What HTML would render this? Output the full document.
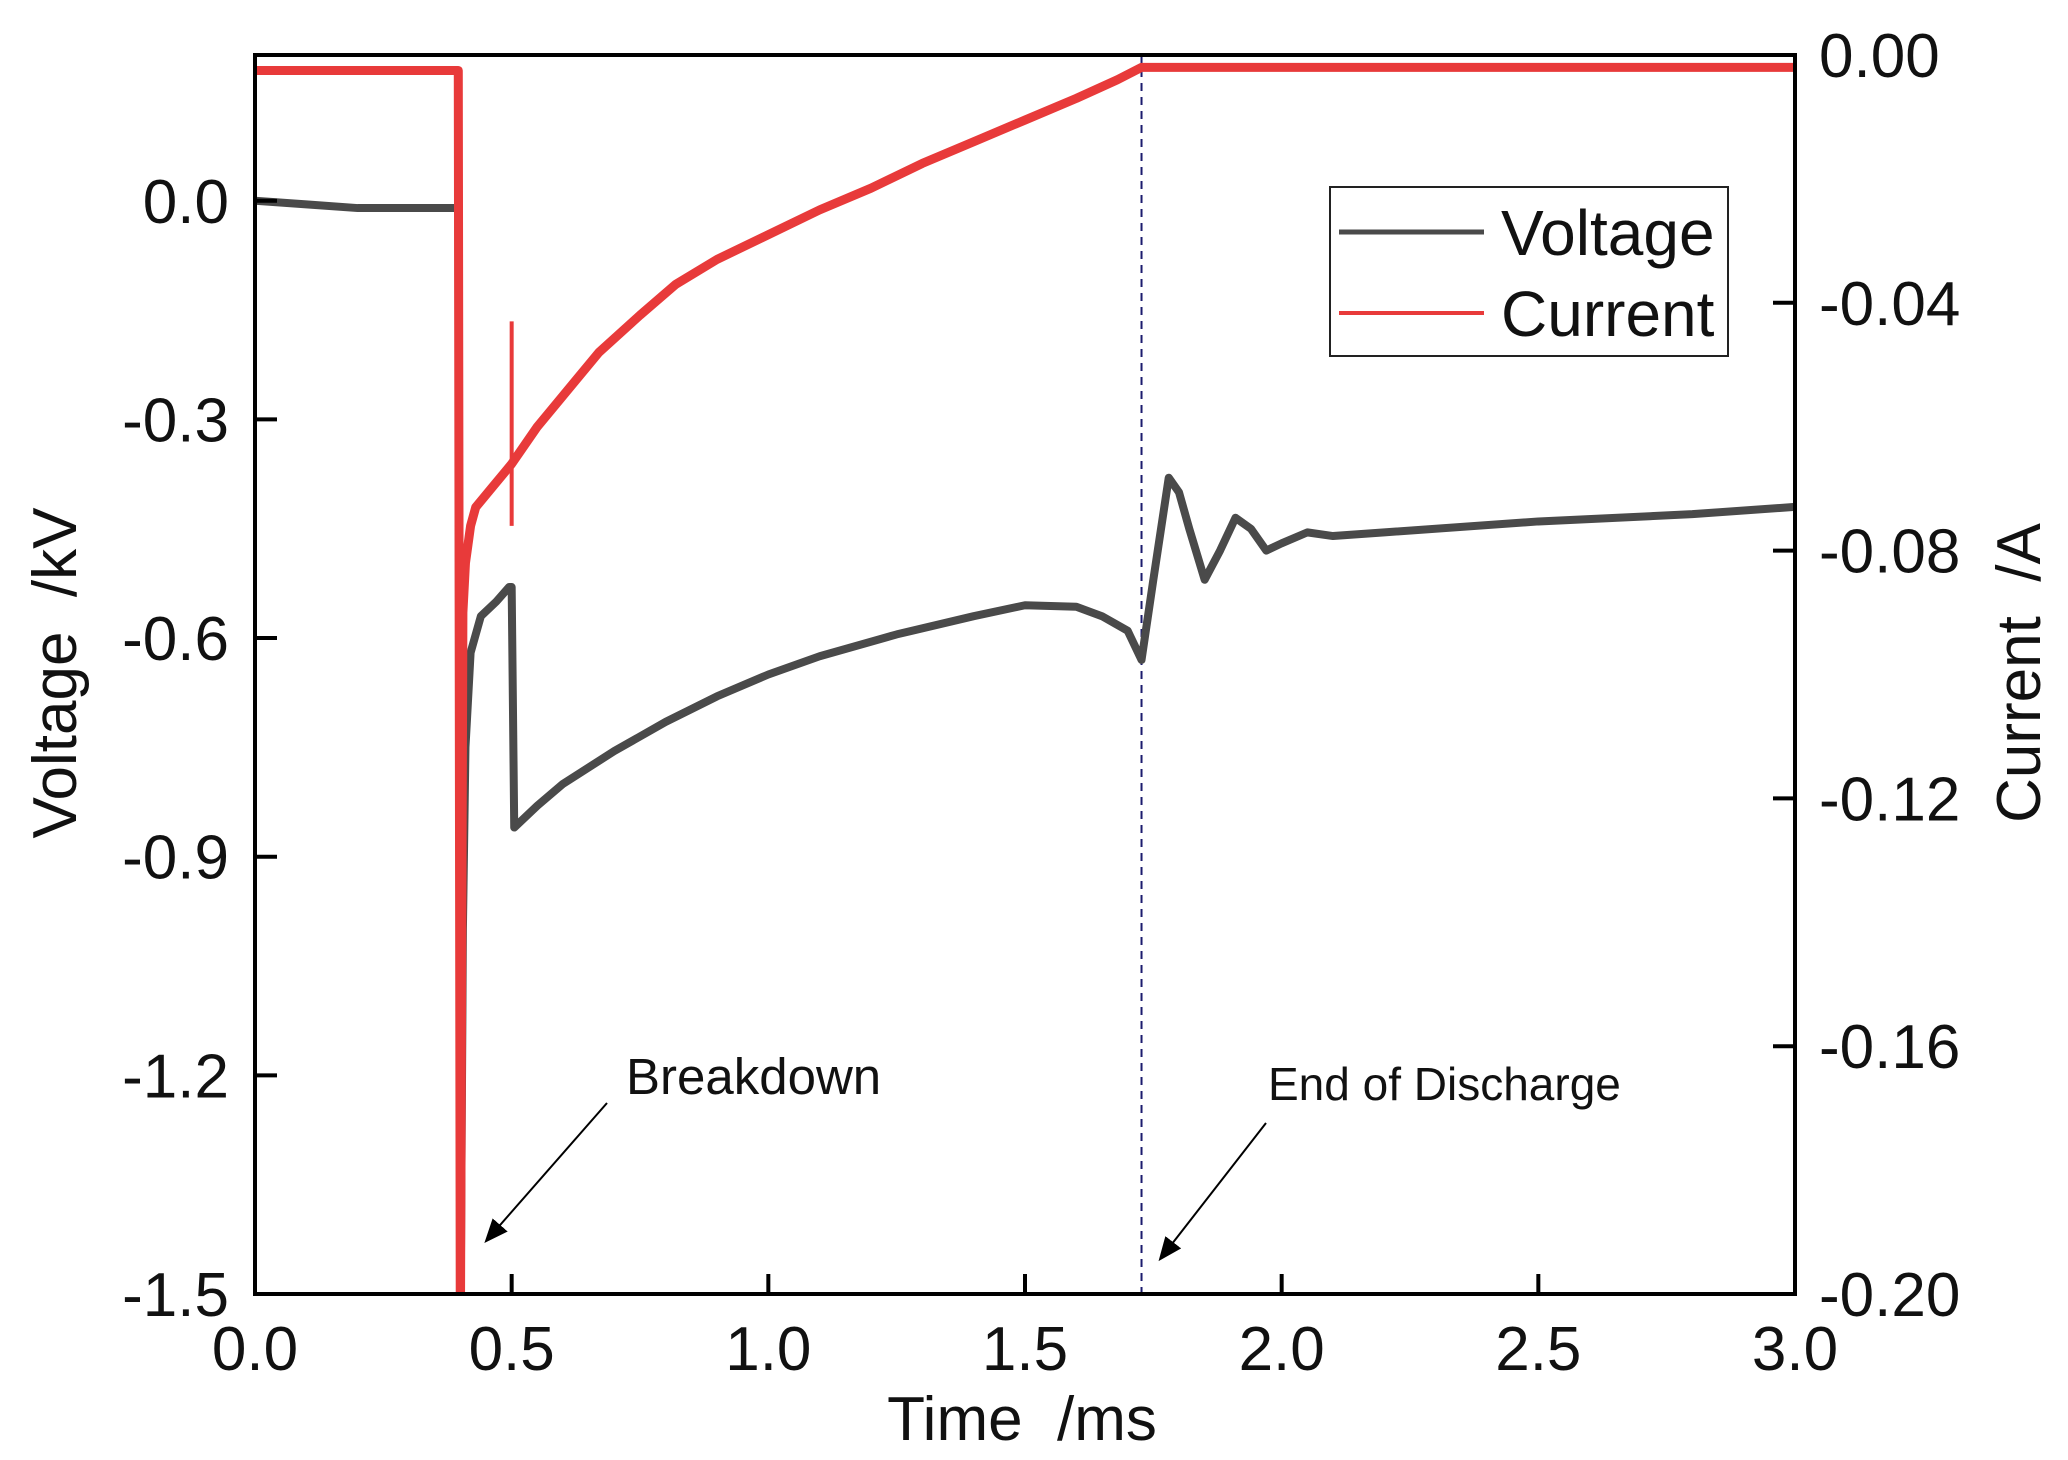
<!DOCTYPE html>
<html><head><meta charset="utf-8"><style>
html,body{margin:0;padding:0;background:#fff;}
svg{display:block;font-family:"Liberation Sans",Arial,sans-serif;}
</style></head><body>
<svg id="chart" width="2068" height="1460" viewBox="0 0 2068 1460" style="position:absolute;left:0;top:0">
<defs><clipPath id="plotclip"><rect x="255" y="55" width="1540" height="1239"/></clipPath></defs>
<g id="series" clip-path="url(#plotclip)"></g>
<g id="axes"></g>
</svg>
<script>
const timeV = [0,0.1,0.2,0.3,0.39,0.396,0.40,0.405,0.41,0.42,0.44,0.47,0.495,0.50,0.505,0.55,0.6,0.7,0.8,0.9,1.0,1.1,1.25,1.4,1.5,1.6,1.65,1.7,1.727,1.75,1.78,1.8,1.82,1.85,1.88,1.91,1.94,1.97,2.0,2.05,2.1,2.2,2.5,2.8,3.0];
const voltage = [0,-0.005,-0.01,-0.01,-0.01,-0.01,-1.6,-1.0,-0.75,-0.62,-0.57,-0.55,-0.53,-0.53,-0.86,-0.83,-0.8,-0.755,-0.715,-0.68,-0.65,-0.625,-0.595,-0.57,-0.555,-0.557,-0.57,-0.59,-0.63,-0.52,-0.38,-0.4,-0.45,-0.52,-0.48,-0.435,-0.45,-0.48,-0.47,-0.455,-0.46,-0.455,-0.44,-0.43,-0.42];
const timeI = [0,0.2,0.396,0.40,0.405,0.41,0.42,0.43,0.46,0.49,0.5,0.55,0.6,0.67,0.75,0.82,0.9,1.0,1.1,1.2,1.3,1.4,1.5,1.6,1.68,1.727,2.0,2.5,3.0];
const current = [-0.0025,-0.0025,-0.0025,-0.21,-0.09,-0.082,-0.076,-0.073,-0.07,-0.067,-0.066,-0.06,-0.055,-0.048,-0.042,-0.037,-0.033,-0.029,-0.025,-0.0215,-0.0175,-0.014,-0.0105,-0.007,-0.004,-0.002,-0.002,-0.002,-0.002];
const xTicks = [0,0.5,1.0,1.5,2.0,2.5,3.0];
const vTicks = [0,-0.3,-0.6,-0.9,-1.2,-1.5];
const iTicks = [0,-0.04,-0.08,-0.12,-0.16,-0.20];
const spike = {t:0.5, lo:-0.076, hi:-0.043};
const endTime = 1.727;

const L=255,R=1795,T=55,B=1294;
const X=t=>L+(t/3)*(R-L);
const YV=v=>T+(0.2-v)/1.7*(B-T);
const YI=a=>T+(0-a)/0.2*(B-T);
const NS="http://www.w3.org/2000/svg";
function mk(tag,attrs,parent){const e=document.createElementNS(NS,tag);for(const k in attrs)e.setAttribute(k,attrs[k]);parent.appendChild(e);return e;}
const ser=document.getElementById('series'), ax=document.getElementById('axes');

let d=mk('line',{x1:X(endTime),y1:T,x2:X(endTime),y2:B,stroke:'#1c1c6e','stroke-width':2,'stroke-dasharray':'8,6'},ser);



let pv=mk('polyline',{points:timeV.map((t,i)=>X(t)+','+YV(voltage[i])).join(' '),fill:'none',stroke:'#4a4a4a','stroke-width':8,'stroke-linejoin':'round'},ser);



let pi=mk('polyline',{points:timeI.map((t,i)=>X(t)+','+YI(current[i])).join(' '),fill:'none',stroke:'#e83a3a','stroke-width':9,'stroke-linejoin':'round'},ser);



let sp=mk('line',{x1:X(spike.t),y1:YI(spike.hi),x2:X(spike.t),y2:YI(spike.lo),stroke:'#e83a3a','stroke-width':4},ser);



let fr=mk('rect',{x:L,y:T,width:R-L,height:B-T,fill:'none',stroke:'#000','stroke-width':4},ax);



xTicks.forEach(t=>{
  mk('line',{x1:X(t),y1:B,x2:X(t),y2:B-20,stroke:'#000','stroke-width':4},ax);
  let tx=mk('text',{x:X(t),y:B+76,'text-anchor':'middle','font-size':62,fill:'#111'},ax);
  tx.textContent=t.toFixed(1);
  
  
});
vTicks.forEach(v=>{
  mk('line',{x1:L,y1:YV(v),x2:L+22,y2:YV(v),stroke:'#000','stroke-width':4},ax);
  let tx=mk('text',{x:L-26,y:YV(v)+22,'text-anchor':'end','font-size':62,fill:'#111'},ax);
  tx.textContent=v.toFixed(1);
  
  
});
iTicks.forEach(a=>{
  mk('line',{x1:R,y1:YI(a),x2:R-22,y2:YI(a),stroke:'#000','stroke-width':4},ax);
  let tx=mk('text',{x:R+24,y:YI(a)+22,'text-anchor':'start','font-size':62,fill:'#111'},ax);
  tx.textContent=a.toFixed(2);
  
  
});
</script>
<div style="position:absolute;left:0;top:0;width:2068px;height:1460px;pointer-events:none">
<svg width="2068" height="1460" style="font-family:'Liberation Sans',Arial,sans-serif">
<defs><marker id="ah2" markerWidth="12" markerHeight="12" refX="10" refY="6" orient="auto"><path d="M0,1 L12,6 L0,11 z" fill="#000"/></marker></defs>
<text x="1022" y="1440" text-anchor="middle" font-size="62" fill="#111">Time&#160;&#160;/ms</text>
<text transform="translate(76,673) rotate(-90)" text-anchor="middle" font-size="62" fill="#111">Voltage&#160;&#160;/kV</text>
<text transform="translate(2040,673) rotate(-90)" text-anchor="middle" font-size="62" fill="#111">Current&#160;&#160;/A</text>
<g>
<rect x="1330" y="187" width="398" height="169" fill="#fff" stroke="#222" stroke-width="2"/>
<line x1="1339" y1="232" x2="1484" y2="232" stroke="#4a4a4a" stroke-width="5"/>
<text x="1501" y="255" font-size="64" fill="#111">Voltage</text>
<line x1="1339" y1="313" x2="1484" y2="313" stroke="#e83a3a" stroke-width="4"/>
<text x="1501" y="336" font-size="64" fill="#111">Current</text>
</g>
<text x="626" y="1094" font-size="51" fill="#111">Breakdown</text>
<line x1="607" y1="1103" x2="487" y2="1240" stroke="#000" stroke-width="2" marker-end="url(#ah2)"/>
<text x="1268" y="1100" font-size="46" fill="#111">End of Discharge</text>
<line x1="1266" y1="1123" x2="1161" y2="1258" stroke="#000" stroke-width="2" marker-end="url(#ah2)"/>
</svg></div>
</body></html>
